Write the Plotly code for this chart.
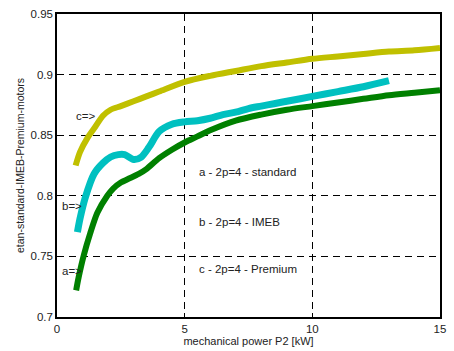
import plotly.graph_objects as go

# standard (a) - green
std_x = [0.75, 0.85, 1.05, 1.3, 1.58, 1.97, 2.2, 2.5, 2.8, 3.2, 3.5, 4.0, 4.5, 5.0, 5.5, 6.0, 7.0, 8.0, 9.0, 10.0, 11.0, 12.0, 13.0, 14.0, 15.0]
std_y = [0.722, 0.733, 0.751, 0.769, 0.786, 0.800, 0.806, 0.811, 0.814, 0.818, 0.822, 0.831, 0.838, 0.844, 0.849, 0.854, 0.862, 0.867, 0.871, 0.874, 0.877, 0.880, 0.883, 0.885, 0.887]

# IMEB (b) - cyan
imeb_x = [0.8, 0.9, 1.1, 1.45, 1.8, 2.1, 2.4, 2.65, 3.0, 3.3, 3.6, 4.0, 4.5, 5.0, 5.5, 6.0, 6.5, 7.0, 7.5, 8.0, 8.5, 9.0, 10.0, 11.0, 12.0, 13.0]
imeb_y = [0.770, 0.781, 0.798, 0.818, 0.827, 0.832, 0.834, 0.834, 0.830, 0.832, 0.840, 0.853, 0.859, 0.861, 0.862, 0.864, 0.867, 0.869, 0.872, 0.874, 0.876, 0.878, 0.882, 0.886, 0.890, 0.895]

# Premium (c) - yellow
prem_x = [0.73, 0.9, 1.2, 1.5, 1.8, 2.1, 2.5, 3.0, 3.5, 4.0, 5.0, 6.0, 7.0, 8.0, 9.0, 10.0, 11.0, 12.0, 13.0, 14.0, 15.0]
prem_y = [0.825, 0.836, 0.848, 0.857, 0.866, 0.871, 0.874, 0.878, 0.882, 0.886, 0.894, 0.899, 0.903, 0.907, 0.910, 0.913, 0.915, 0.917, 0.919, 0.920, 0.922]

x_ticks = [0, 5, 10, 15]
y_ticks = [0.7, 0.75, 0.8, 0.85, 0.9, 0.95]
y_tick_labels = ["0.7", "0.75", "0.8", "0.85", "0.9", "0.95"]

font = "Liberation Sans, Arial, sans-serif"

fig = go.Figure()
fig.add_trace(go.Scatter(x=prem_x, y=prem_y, mode="lines", line=dict(color="#c0c000", width=6, shape="spline", smoothing=0.8), showlegend=False))
fig.add_trace(go.Scatter(x=imeb_x, y=imeb_y, mode="lines", line=dict(color="#00c0c0", width=7, shape="spline", smoothing=0.8), showlegend=False))
fig.add_trace(go.Scatter(x=std_x, y=std_y, mode="lines", line=dict(color="#008000", width=6, shape="spline", smoothing=0.8), showlegend=False))

annots = [
    (0.12, 0.738, "a=>"), (0.1, 0.792, "b=>"), (0.65, 0.866, "c=>"),
    (5.5, 0.820, "a - 2p=4 - standard"), (5.5, 0.778, "b - 2p=4 - IMEB"), (5.5, 0.740, "c - 2p=4 - Premium"),
]
for ax_, ay_, t in annots:
    fig.add_annotation(x=ax_, y=ay_, text=t, showarrow=False, xanchor="left", yanchor="middle",
                       font=dict(family=font, size=11.5, color="#222"))

axis_common = dict(showline=True, linecolor="black", linewidth=1.5, mirror=True,
                   showgrid=True, gridcolor="black", griddash="7px,5px", gridwidth=1,
                   zeroline=False, ticks="inside", ticklen=4, tickcolor="black",
                   automargin=False,
                   tickfont=dict(family=font, size=11.5, color="#222"))

fig.update_xaxes(range=[0, 15], tickvals=x_ticks, title=dict(text="mechanical power P2 [kW]", font=dict(family=font, size=11, color="#222"), standoff=2), **axis_common)
fig.update_yaxes(range=[0.7, 0.95], tickvals=y_ticks, ticktext=y_tick_labels, title=dict(text="etan-standard-IMEB-Premium-motors", font=dict(family=font, size=10.5, color="#222"), standoff=4), **axis_common)

fig.update_layout(width=454, height=351, margin=dict(l=57, r=14, t=14, b=34),
                  plot_bgcolor="white", paper_bgcolor="white")

fig.write_html("out.html", config={"displayModeBar": False},
               post_script="document.body.style.margin='0px';")
